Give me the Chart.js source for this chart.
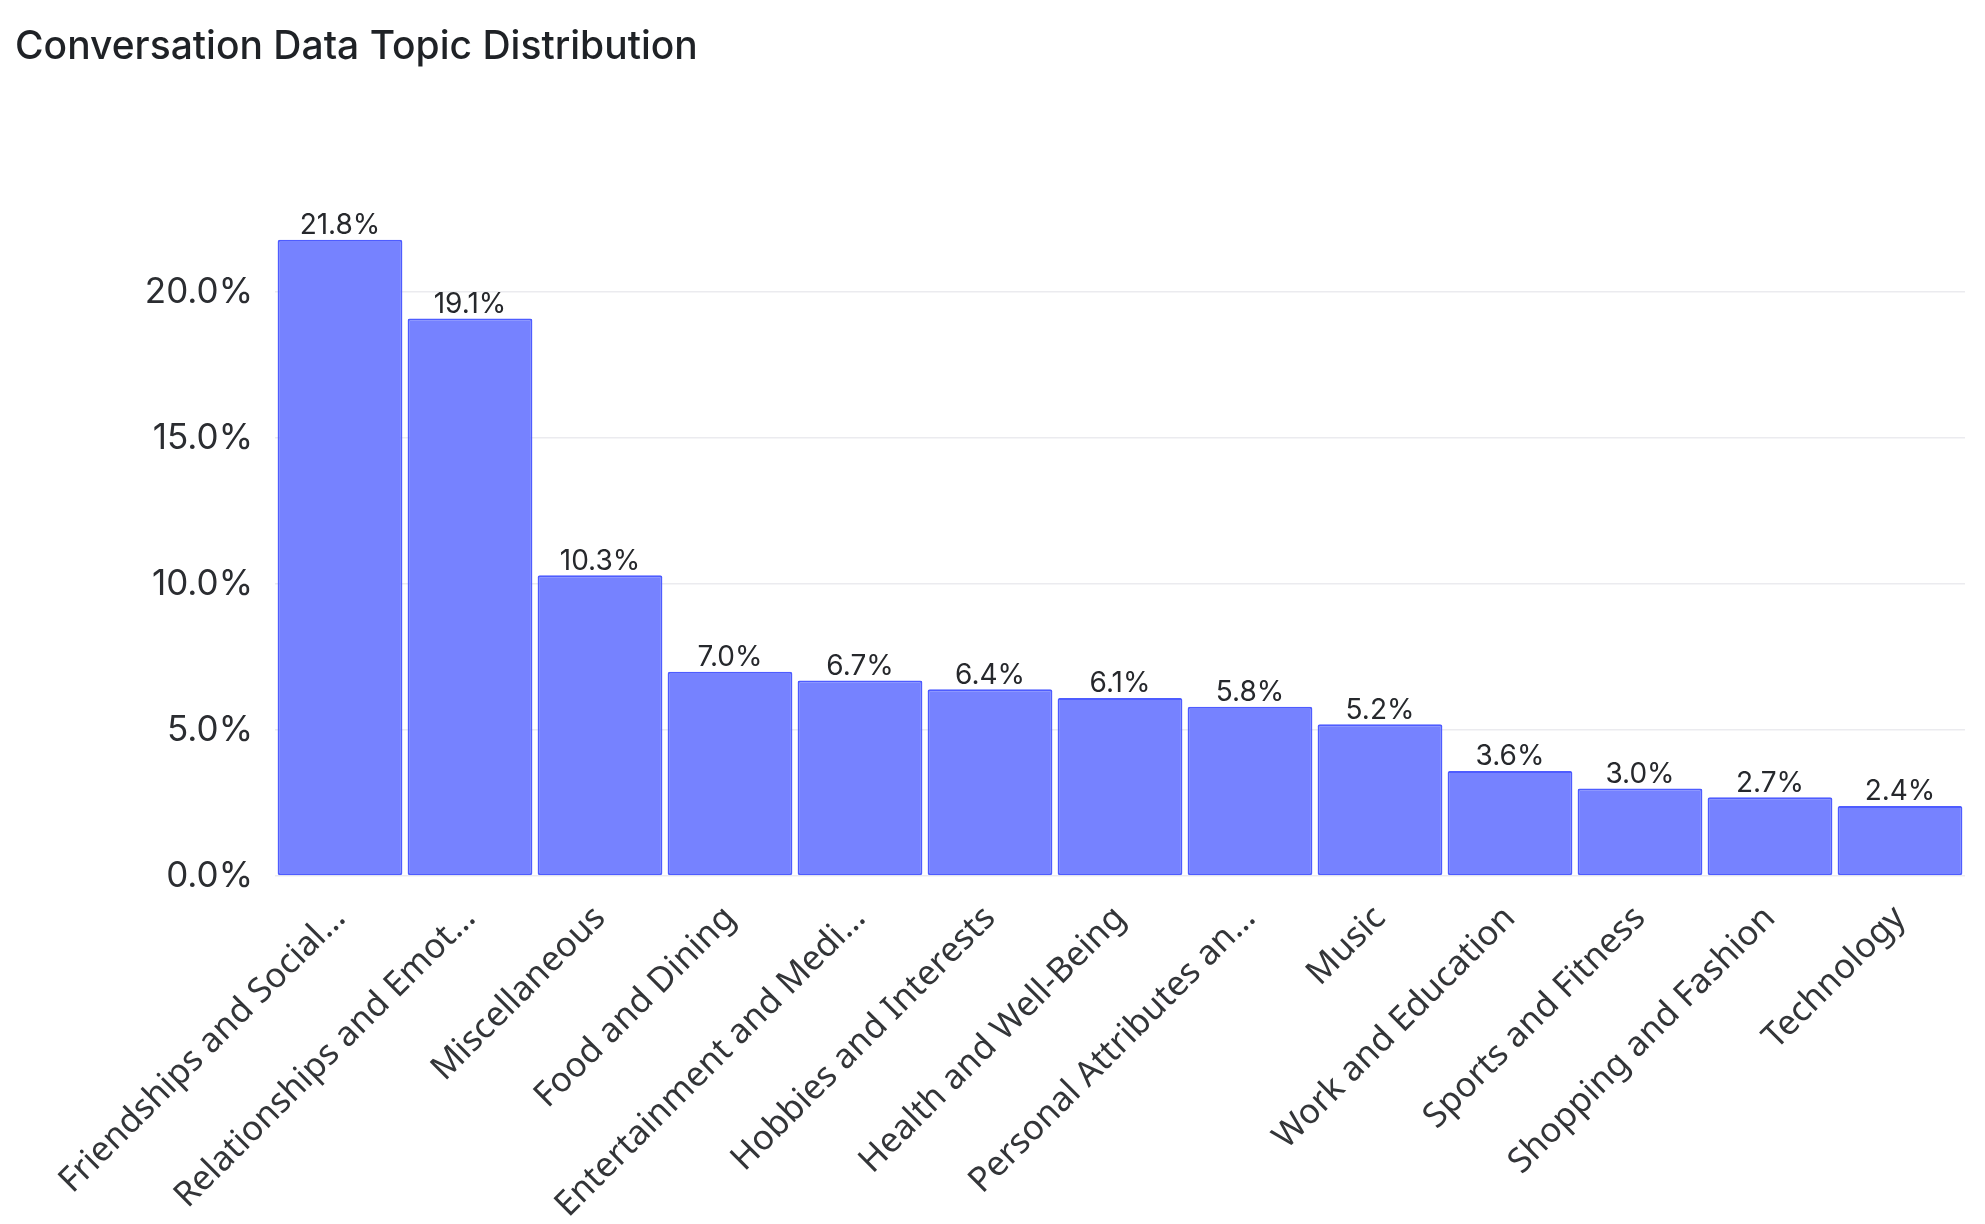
<!DOCTYPE html>
<html>
<head>
<meta charset="utf-8">
<title>Conversation Data Topic Distribution</title>
<script src="https://cdn.jsdelivr.net/npm/chart.js@4.4.1/dist/chart.umd.min.js"></script>
<style>
  html, body { margin: 0; padding: 0; background: #ffffff; }
  #wrap { width: 1985px; height: 1224px; position: relative; }
</style>
</head>
<body>
<div id="wrap"><canvas id="topicChart"></canvas></div>
<script>
  // 话题分类（标签按原图截断）
  const topics = [
    'Friendships and Social…',
    'Relationships and Emot…',
    'Miscellaneous',
    'Food and Dining',
    'Entertainment and Medi…',
    'Hobbies and Interests',
    'Health and Well-Being',
    'Personal Attributes an…',
    'Music',
    'Work and Education',
    'Sports and Fitness',
    'Shopping and Fashion',
    'Technology'
  ];

  // 占比（%）
  const shares = [21.8, 19.1, 10.3, 7.0, 6.7, 6.4, 6.1, 5.8, 5.2, 3.6, 3.0, 2.7, 2.4];

  // y 轴刻度
  const yTicks = [0, 5, 10, 15, 20];

  // 柱顶数值标签
  const barValueLabels = {
    id: 'barValueLabels',
    afterDatasetsDraw(chart) {
      const { ctx } = chart;
      const meta = chart.getDatasetMeta(0);
      ctx.save();
      ctx.font = '400 28px Inter, "Noto Sans", sans-serif';
      ctx.fillStyle = '#26282c';
      ctx.textAlign = 'center';
      ctx.textBaseline = 'bottom';
      meta.data.forEach((bar, i) => {
        ctx.fillText(shares[i].toFixed(1) + '%', bar.x, bar.y);
      });
      ctx.restore();
    }
  };

  const ctx = document.getElementById('topicChart').getContext('2d');

  new Chart(ctx, {
    type: 'bar',
    data: {
      labels: topics,
      datasets: [{
        label: 'Share',
        data: shares,
        backgroundColor: '#7682ff',
        borderColor: '#4e5cff',
        borderWidth: 2,
        borderSkipped: false,
        borderRadius: 2,
        barPercentage: 0.96,
        categoryPercentage: 1.0
      }]
    },
    options: {
      responsive: true,
      maintainAspectRatio: false,
      animation: false,
      devicePixelRatio: 1,
      layout: {
        padding: { left: 15, right: 20, top: 24, bottom: 8 }
      },
      plugins: {
        legend: { display: false },
        tooltip: { enabled: false },
        title: {
          display: true,
          text: 'Conversation Data Topic Distribution',
          align: 'start',
          color: '#1f2226',
          font: { family: 'Inter, "Noto Sans", sans-serif', size: 39, weight: '500' },
          padding: { top: 0, bottom: 163 }
        }
      },
      scales: {
        x: {
          afterFit(axis) { axis.height = 340; },
          grid: { display: false },
          border: { display: false },
          ticks: {
            color: '#333538',
            font: { family: '"Noto Sans", "Open Sans", sans-serif', size: 34.5 },
            maxRotation: 45,
            minRotation: 45,
            autoSkip: false,
            padding: 14
          }
        },
        y: {
          min: 0,
          max: 22,
          afterFit(axis) { axis.width = 260; },
          afterBuildTicks(axis) {
            axis.ticks = yTicks.map(v => ({ value: v }));
          },
          grid: { color: '#ebebef', lineWidth: 1.5, drawTicks: false },
          border: { display: false },
          ticks: {
            color: '#2b2d31',
            font: { family: 'Inter, "Noto Sans", sans-serif', size: 35 },
            padding: 22,
            callback: v => v.toFixed(1) + '%'
          }
        }
      }
    },
    plugins: [barValueLabels]
  });
</script>
</body>
</html>
